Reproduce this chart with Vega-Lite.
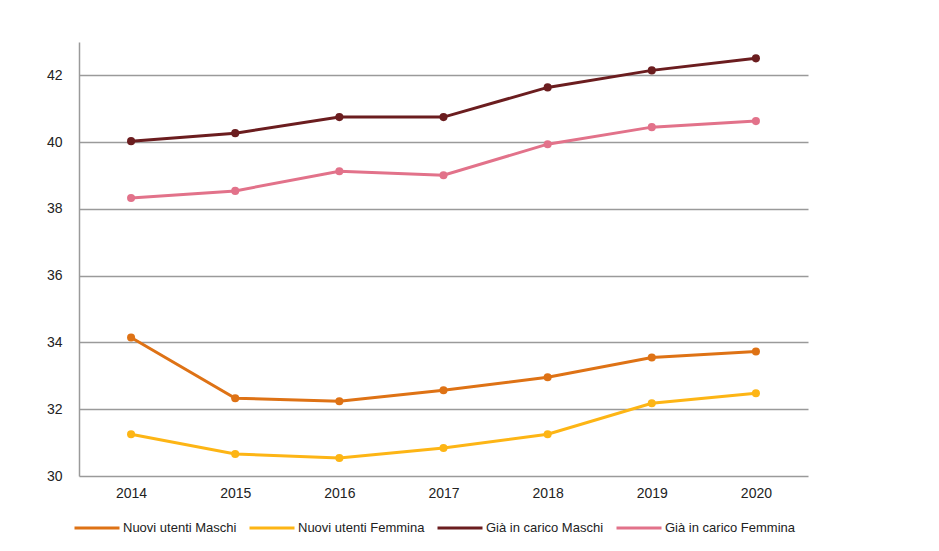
{
  "$schema": "https://vega.github.io/schema/vega-lite/v6.json",
  "autosize": "none",
  "width": 729,
  "height": 434,
  "padding": {"left": 79, "top": 42, "right": 131, "bottom": 75},
  "background": "white",
  "data": {
    "values": [
      {"anno": "2014", "serie": "Nuovi utenti Maschi", "valore": 34.15},
      {"anno": "2015", "serie": "Nuovi utenti Maschi", "valore": 32.33},
      {"anno": "2016", "serie": "Nuovi utenti Maschi", "valore": 32.24},
      {"anno": "2017", "serie": "Nuovi utenti Maschi", "valore": 32.57},
      {"anno": "2018", "serie": "Nuovi utenti Maschi", "valore": 32.96},
      {"anno": "2019", "serie": "Nuovi utenti Maschi", "valore": 33.55},
      {"anno": "2020", "serie": "Nuovi utenti Maschi", "valore": 33.73},
      {"anno": "2014", "serie": "Nuovi utenti Femmina", "valore": 31.25},
      {"anno": "2015", "serie": "Nuovi utenti Femmina", "valore": 30.66},
      {"anno": "2016", "serie": "Nuovi utenti Femmina", "valore": 30.54},
      {"anno": "2017", "serie": "Nuovi utenti Femmina", "valore": 30.84},
      {"anno": "2018", "serie": "Nuovi utenti Femmina", "valore": 31.25},
      {"anno": "2019", "serie": "Nuovi utenti Femmina", "valore": 32.18},
      {"anno": "2020", "serie": "Nuovi utenti Femmina", "valore": 32.48},
      {"anno": "2014", "serie": "Già in carico Maschi", "valore": 40.03},
      {"anno": "2015", "serie": "Già in carico Maschi", "valore": 40.27},
      {"anno": "2016", "serie": "Già in carico Maschi", "valore": 40.75},
      {"anno": "2017", "serie": "Già in carico Maschi", "valore": 40.75},
      {"anno": "2018", "serie": "Già in carico Maschi", "valore": 41.64},
      {"anno": "2019", "serie": "Già in carico Maschi", "valore": 42.15},
      {"anno": "2020", "serie": "Già in carico Maschi", "valore": 42.51},
      {"anno": "2014", "serie": "Già in carico Femmina", "valore": 38.33},
      {"anno": "2015", "serie": "Già in carico Femmina", "valore": 38.54},
      {"anno": "2016", "serie": "Già in carico Femmina", "valore": 39.13},
      {"anno": "2017", "serie": "Già in carico Femmina", "valore": 39.01},
      {"anno": "2018", "serie": "Già in carico Femmina", "valore": 39.94},
      {"anno": "2019", "serie": "Già in carico Femmina", "valore": 40.45},
      {"anno": "2020", "serie": "Già in carico Femmina", "valore": 40.63}
    ]
  },
  "mark": {
    "type": "line",
    "interpolate": "linear",
    "strokeWidth": 3,
    "point": {"filled": true, "size": 65}
  },
  "encoding": {
    "x": {
      "field": "anno",
      "type": "ordinal",
      "scale": {"type": "point", "padding": 0.5},
      "axis": {
        "title": null,
        "labelAngle": 0,
        "domain": false,
        "ticks": false,
        "grid": false,
        "labelPadding": 10,
        "labelFont": "Liberation Sans",
        "labelFontSize": 14,
        "labelColor": "#222222"
      }
    },
    "y": {
      "field": "valore",
      "type": "quantitative",
      "scale": {"domain": [30, 43], "nice": false, "zero": false},
      "axis": {
        "title": null,
        "values": [30, 32, 34, 36, 38, 40, 42],
        "domain": true,
        "domainColor": "#9a9a9a",
        "domainWidth": 1.5,
        "ticks": false,
        "grid": true,
        "gridColor": "#9a9a9a",
        "gridWidth": 1.5,
        "labelPadding": 17,
        "labelFont": "Liberation Sans",
        "labelFontSize": 14,
        "labelColor": "#222222"
      }
    },
    "color": {
      "field": "serie",
      "type": "nominal",
      "sort": ["Nuovi utenti Maschi", "Nuovi utenti Femmina", "Già in carico Maschi", "Già in carico Femmina"],
      "scale": {
        "domain": ["Nuovi utenti Maschi", "Nuovi utenti Femmina", "Già in carico Maschi", "Già in carico Femmina"],
        "range": ["#DE7215", "#FDB515", "#6B1D1F", "#E2728A"]
      },
      "legend": {
        "title": null,
        "orient": "none",
        "direction": "horizontal",
        "legendX": -6,
        "legendY": 462,
        "symbolType": "stroke",
        "symbolSize": 2025,
        "symbolStrokeWidth": 3,
        "labelOffset": 2,
        "columnPadding": 6,
        "labelFont": "Liberation Sans",
        "labelFontSize": 13,
        "labelColor": "#222222",
        "labelLimit": 300
      }
    }
  },
  "config": {
    "view": {"stroke": null}
  }
}
